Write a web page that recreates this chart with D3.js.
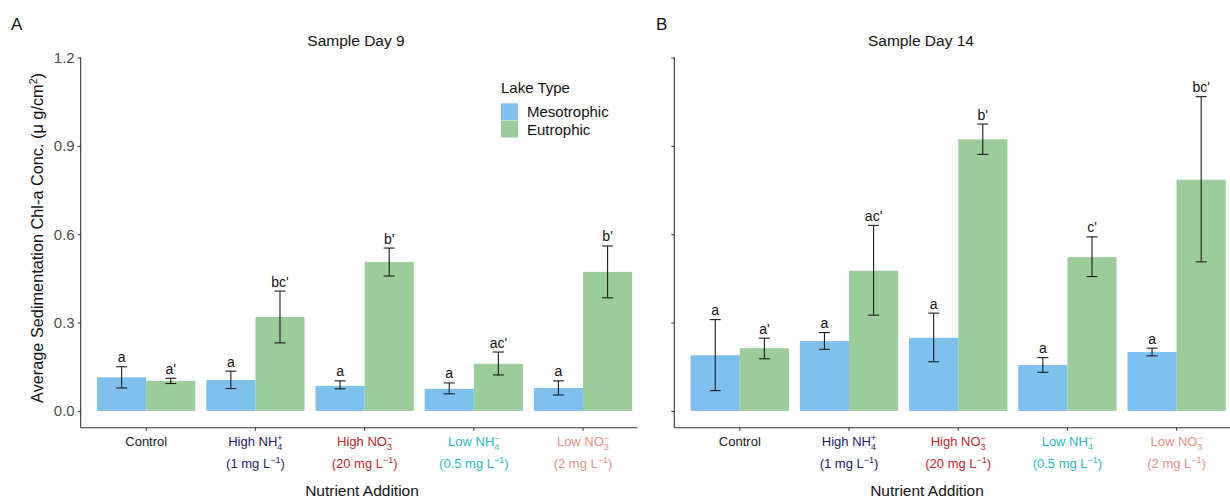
<!DOCTYPE html>
<html>
<head>
<meta charset="utf-8">
<script src="https://cdn.jsdelivr.net/npm/d3@7"></script>
<style>
  body { margin: 0; background: #fff; }
  svg { font-family: "Liberation Sans", Arial, sans-serif; }
</style>
</head>
<body>
<script>
// DATA =============================================
const categories = ['Control', 'High NH4+', 'High NO3-', 'Low NH4-', 'Low NO3-'];
const lakeTypes = ['Mesotrophic', 'Eutrophic'];

// tick label pieces (main text, subscript, superscript, dose line)
const tickMain = ['Control', 'High NH', 'High NO', 'Low NH', 'Low NO'];
const tickSub = ['', '4', '3', '4', '3'];
const tickSup = ['', '+', '\u2212', '\u2212', '\u2212'];
const tickDose = ['', '(1 mg L', '(20 mg L', '(0.5 mg L', '(2 mg L'];
const tickColors = ['#1a1a1a', '#1c1a66', '#c0272d', '#2bb9c1', '#e39088'];

const yTicks = [0.0, 0.3, 0.6, 0.9, 1.2];

// Sample Day 9
const day9Meso = [0.114, 0.105, 0.085, 0.075, 0.078];
const day9MesoLow = [0.078, 0.076, 0.075, 0.058, 0.054];
const day9MesoHigh = [0.150, 0.135, 0.102, 0.095, 0.102];
const day9MesoLetters = ['a', 'a', 'a', 'a', 'a'];
const day9Eu = [0.102, 0.319, 0.506, 0.160, 0.472];
const day9EuLow = [0.093, 0.231, 0.458, 0.122, 0.384];
const day9EuHigh = [0.111, 0.407, 0.553, 0.200, 0.560];
const day9EuLetters = ["a'", "bc'", "b'", "ac'", "b'"];

// Sample Day 14
const day14Meso = [0.189, 0.237, 0.248, 0.156, 0.200];
const day14MesoLow = [0.069, 0.209, 0.167, 0.131, 0.187];
const day14MesoHigh = [0.310, 0.266, 0.332, 0.181, 0.213];
const day14MesoLetters = ['a', 'a', 'a', 'a', 'a'];
const day14Eu = [0.213, 0.476, 0.922, 0.522, 0.785];
const day14EuLow = [0.177, 0.325, 0.871, 0.456, 0.506];
const day14EuHigh = [0.247, 0.630, 0.974, 0.591, 1.067];
const day14EuLetters = ["a'", "ac'", "b'", "c'", "bc'"];

const colors = { Mesotrophic: '#7ec0ee', Eutrophic: '#9bcd9b' };

// build rows for one panel
function makeRows(meso, mesoLo, mesoHi, mesoL, eu, euLo, euHi, euL) {
  let rows = [];
  categories.forEach((c, i) => {
    rows.push({ cat: c, type: 'Mesotrophic', value: meso[i], lo: mesoLo[i], hi: mesoHi[i], letter: mesoL[i] });
    rows.push({ cat: c, type: 'Eutrophic', value: eu[i], lo: euLo[i], hi: euHi[i], letter: euL[i] });
  });
  return rows;
}

const panels = [
  { letter: 'A', title: 'Sample Day 9', left: 80.7, right: 637.5, titleX: 356, showLabels: true, showLegend: true,
    rows: makeRows(day9Meso, day9MesoLow, day9MesoHigh, day9MesoLetters, day9Eu, day9EuLow, day9EuHigh, day9EuLetters) },
  { letter: 'B', title: 'Sample Day 14', left: 674.3, right: 1230, titleX: 921, showLabels: false, showLegend: false,
    rows: makeRows(day14Meso, day14MesoLow, day14MesoHigh, day14MesoLetters, day14Eu, day14EuLow, day14EuHigh, day14EuLetters) }
];

// LAYOUT =============================================
const width = 1230, height = 497;
const plotTop = 57.5, plotBottom = 427.7;
const step = 109.2;

const svg = d3.select('body').append('svg')
    .attr('width', width)
    .attr('height', height);

const y = d3.scaleLinear()
    .domain([-0.057, 1.2])
    .range([plotBottom, plotTop]);

panels.forEach(p => drawPanel(p));

function drawPanel(p) {
  const g = svg.append('g');

  // discrete x with ggplot-like 0.6 expansion on each side
  const x = d3.scaleBand()
      .domain(categories)
      .range([p.left, p.left + step * 5.2])
      .paddingInner(0)
      .paddingOuter(0.1);

  const groupW = 0.9 * x.step();
  const xg = d3.scaleBand()
      .domain(lakeTypes)
      .range([-groupW / 2, groupW / 2]);

  const cx = c => x(c) + x.bandwidth() / 2;

  // Bars
  g.selectAll('rect.bar')
      .data(p.rows)
    .enter().append('rect')
      .attr('class', 'bar')
      .attr('x', d => cx(d.cat) + xg(d.type))
      .attr('width', xg.bandwidth())
      .attr('y', d => y(d.value))
      .attr('height', d => y(0) - y(d.value))
      .attr('fill', d => colors[d.type]);

  // Error bars
  const capW = 11;
  const eb = g.selectAll('g.err')
      .data(p.rows)
    .enter().append('g')
      .attr('class', 'err')
      .attr('transform', d => `translate(${cx(d.cat) + xg(d.type) + xg.bandwidth() / 2},0)`)
      .attr('stroke', '#1a1a1a')
      .attr('stroke-width', 1.1);
  eb.append('line').attr('x1', 0).attr('x2', 0).attr('y1', d => y(d.lo)).attr('y2', d => y(d.hi));
  eb.append('line').attr('x1', -capW / 2).attr('x2', capW / 2).attr('y1', d => y(d.lo)).attr('y2', d => y(d.lo));
  eb.append('line').attr('x1', -capW / 2).attr('x2', capW / 2).attr('y1', d => y(d.hi)).attr('y2', d => y(d.hi));

  // Significance letters
  g.selectAll('text.sig')
      .data(p.rows)
    .enter().append('text')
      .attr('class', 'sig')
      .attr('x', d => cx(d.cat) + xg(d.type) + xg.bandwidth() / 2)
      .attr('y', d => y(d.hi) - 4.5)
      .attr('text-anchor', 'middle')
      .attr('font-size', '14px')
      .attr('fill', '#111')
      .text(d => d.letter);

  // Y axis
  const yAxis = d3.axisLeft(y)
      .tickValues(yTicks)
      .tickSize(3)
      .tickPadding(3)
      .tickFormat(p.showLabels ? d3.format('.1f') : '');
  const ya = g.append('g')
      .attr('transform', `translate(${p.left},0)`)
      .call(yAxis);
  ya.select('.domain').remove();
  ya.append('line')
      .attr('y1', plotTop).attr('y2', plotBottom)
      .attr('stroke', '#333').attr('stroke-width', 1.1);
  ya.selectAll('.tick line').attr('stroke', '#333');
  ya.selectAll('.tick text')
      .attr('fill', '#4d4d4d')
      .attr('font-size', '15px')
      .attr('font-family', '"Liberation Sans", Arial, sans-serif');

  // X axis
  const xa = g.append('g')
      .attr('transform', `translate(0,${plotBottom})`);
  xa.append('line')
      .attr('x1', p.left).attr('x2', p.right)
      .attr('stroke', '#333').attr('stroke-width', 1.1);
  const ticks = xa.selectAll('g.xtick')
      .data(categories)
    .enter().append('g')
      .attr('class', 'xtick')
      .attr('transform', d => `translate(${cx(d)},0)`);
  ticks.append('line').attr('y1', 0).attr('y2', 3).attr('stroke', '#333');

  // first line: main text with stacked sub/superscript
  ticks.each(function(d, i) {
    const t = d3.select(this);
    const line1 = t.append('text')
        .attr('y', 18.5)
        .attr('text-anchor', 'middle')
        .attr('font-size', '13px')
        .attr('fill', tickColors[i]);
    line1.append('tspan').text(tickMain[i]);
    if (tickSub[i]) {
      line1.append('tspan').attr('font-size', '9px').attr('dy', 3.5).text(tickSub[i]);
      line1.append('tspan').attr('font-size', '9px').attr('dx', -5).attr('dy', -9).text(tickSup[i]);
    }
    if (tickDose[i]) {
      const line2 = t.append('text')
          .attr('y', 40.5)
          .attr('text-anchor', 'middle')
          .attr('font-size', '13px')
          .attr('fill', tickColors[i]);
      line2.append('tspan').text(tickDose[i]);
      line2.append('tspan').attr('font-size', '9px').attr('dy', -5).text('\u22121');
      line2.append('tspan').attr('dy', 5).text(')');
    }
  });

  // Axis titles
  svg.append('text')
      .attr('x', p.titleX + 6)
      .attr('y', 495.5)
      .attr('text-anchor', 'middle')
      .attr('font-size', '15.5px')
      .attr('fill', '#111')
      .text('Nutrient Addition');

  if (p.showLabels) {
    const yt = svg.append('text')
        .attr('transform', 'translate(43,238) rotate(-90)')
        .attr('text-anchor', 'middle')
        .attr('font-size', '16.3px')
        .attr('fill', '#111');
    yt.append('tspan').text('Average Sedimentation Chl-a Conc. (\u03bc g/cm');
    yt.append('tspan').attr('font-size', '10.5px').attr('dy', -6).text('2');
    yt.append('tspan').attr('dy', 6).text(')');
  }

  // Panel title and letter
  svg.append('text')
      .attr('x', p.titleX)
      .attr('y', 45.5)
      .attr('text-anchor', 'middle')
      .attr('font-size', '15.5px')
      .attr('fill', '#111')
      .text(p.title);
  svg.append('text')
      .attr('x', p.letter === 'A' ? 11 : 656)
      .attr('y', 30)
      .attr('font-size', '17px')
      .attr('fill', '#111')
      .text(p.letter);

  // Legend
  if (p.showLegend) {
    const lg = svg.append('g').attr('transform', 'translate(501,0)');
    lg.append('text')
        .attr('x', 0).attr('y', 93)
        .attr('font-size', '15px')
        .attr('fill', '#111')
        .text('Lake Type');
    const items = lg.selectAll('g.item')
        .data(lakeTypes)
      .enter().append('g')
        .attr('class', 'item')
        .attr('transform', (d, i) => `translate(0,${103.3 + i * 17.3})`);
    items.append('rect')
        .attr('width', 17).attr('height', 17)
        .attr('fill', d => colors[d]);
    items.append('text')
        .attr('x', 26).attr('y', 14)
        .attr('font-size', '15px')
        .attr('fill', '#111')
        .text(d => d);
  }
}
</script>
</body>
</html>
